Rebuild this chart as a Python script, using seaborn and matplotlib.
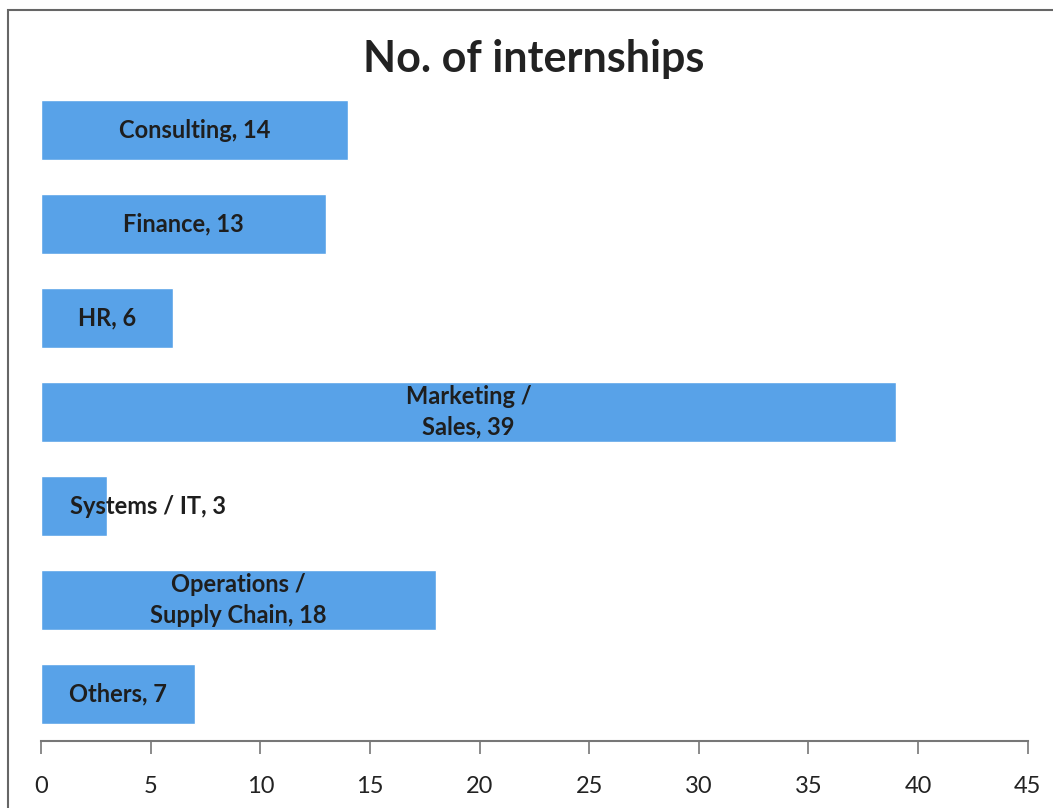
import matplotlib
matplotlib.use('Agg')
import matplotlib.pyplot as plt
from matplotlib.patches import Rectangle
import seaborn as sns

# data
categories = ['Consulting', 'Finance', 'HR', 'Marketing /\nSales', 'Systems / IT',
              'Operations /\nSupply Chain', 'Others']
counts = [14, 13, 6, 39, 3, 18, 7]
x_ticks = [0, 5, 10, 15, 20, 25, 30, 35, 40, 45]
Title = 'No. of internships'
Bar_Color = '#58A2E8'

sns.set_style('white')
plt.rcParams['font.family'] = ['Lato', 'DejaVu Sans']

fig = plt.figure(figsize=(10.53, 8.08), dpi=100)
ax = fig.add_axes([0.039, 0.083, 0.937, 0.814])

sns.barplot(x=counts, y=categories, orient='h', color=Bar_Color, width=0.64,
            saturation=1, ax=ax)

for i, (cat, v) in enumerate(zip(categories, counts)):
    label = f'{cat}, {v}'
    if v < 5:
        ax.text(1.3, i, label, ha='left', va='center', fontsize=17,
                fontweight='bold', color='#1e1e1e')
    else:
        ax.text(v / 2, i, label, ha='center', va='center', fontsize=17,
                fontweight='bold', color='#1e1e1e', linespacing=1.4)

ax.set_xlim(0, 45)
ax.set_ylim(6.5, -0.5)
ax.set_xticks(x_ticks)
ax.set_yticks([])
ax.set_ylabel('')
ax.tick_params(axis='x', bottom=True, direction='out', length=9, width=1.2,
               color='#777777', pad=16, labelsize=17, labelcolor='#222222')
for s in ['top', 'right', 'left']:
    ax.spines[s].set_visible(False)
ax.spines['bottom'].set_color('#777777')
ax.spines['bottom'].set_linewidth(1.5)

fig.text(0.507, 0.927, Title, ha='center', va='center', fontsize=31,
         fontweight='bold', color='#222222')

# outer frame of the scanned chart
fig.patches.append(Rectangle((8 / 1053, -0.1), 1.2, 1.1 - 10 / 808, transform=fig.transFigure,
                             fill=False, edgecolor='#666666', linewidth=1.5))

fig.savefig('out.png', dpi=100)
